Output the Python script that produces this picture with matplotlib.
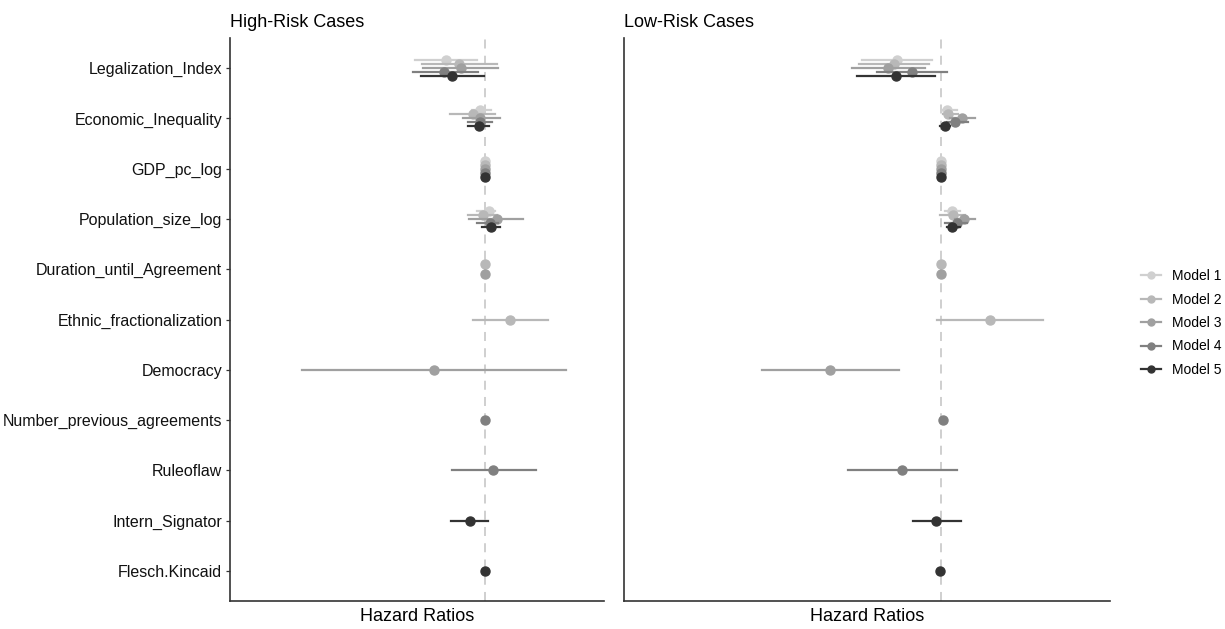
import matplotlib.pyplot as plt
from matplotlib.lines import Line2D

plt.rcParams['font.family'] = ['Liberation Sans', 'DejaVu Sans']

variables = ['Legalization_Index', 'Economic_Inequality', 'GDP_pc_log',
             'Population_size_log', 'Duration_until_Agreement',
             'Ethnic_fractionalization', 'Democracy',
             'Number_previous_agreements', 'Ruleoflaw', 'Intern_Signator',
             'Flesch.Kincaid']
models = ['Model 1', 'Model 2', 'Model 3', 'Model 4', 'Model 5']
colors = ['#d0d0d0', '#b8b8b8', '#a0a0a0', '#808080', '#333333']

# which variables are in each model
m1_vars = ['Legalization_Index', 'Economic_Inequality', 'GDP_pc_log', 'Population_size_log']
m2_vars = m1_vars + ['Duration_until_Agreement', 'Ethnic_fractionalization']
m3_vars = m1_vars + ['Duration_until_Agreement', 'Democracy']
m4_vars = m1_vars + ['Number_previous_agreements', 'Ruleoflaw']
m5_vars = m1_vars + ['Intern_Signator', 'Flesch.Kincaid']

# high-risk: estimate, lower, upper
hr_m1 = [0.922, 0.990, 1.000, 1.008]
hr_m1_lo = [0.860, 0.974, 0.999, 0.984]
hr_m1_hi = [0.984, 1.012, 1.001, 1.020]
hr_m2 = [0.948, 0.976, 1.000, 0.996, 1.000, 1.050]
hr_m2_lo = [0.874, 0.930, 0.999, 0.966, 1.000, 0.976]
hr_m2_hi = [1.024, 1.020, 1.001, 1.024, 1.000, 1.126]
hr_m3 = [0.952, 0.990, 1.000, 1.024, 1.000, 0.898]
hr_m3_lo = [0.876, 0.956, 0.999, 0.968, 1.000, 0.634]
hr_m3_hi = [1.026, 1.030, 1.001, 1.076, 1.000, 1.162]
hr_m4 = [0.918, 0.990, 1.000, 1.010, 1.000, 1.016]
hr_m4_lo = [0.856, 0.966, 0.999, 0.984, 1.000, 0.934]
hr_m4_hi = [0.986, 1.014, 1.001, 1.026, 1.000, 1.102]
hr_m5 = [0.934, 0.988, 1.000, 1.012, 0.970, 1.000]
hr_m5_lo = [0.872, 0.966, 0.999, 0.994, 0.932, 0.999]
hr_m5_hi = [0.998, 1.008, 1.001, 1.030, 1.006, 1.001]

# low-risk
lr_m1 = [0.912, 1.012, 1.000, 1.022]
lr_m1_lo = [0.842, 1.002, 0.999, 1.008]
lr_m1_hi = [0.982, 1.032, 1.001, 1.038]
lr_m2 = [0.906, 1.014, 1.000, 1.024, 1.000, 1.098]
lr_m2_lo = [0.836, 1.004, 0.999, 0.998, 1.000, 0.992]
lr_m2_hi = [0.976, 1.034, 1.001, 1.048, 1.000, 1.204]
lr_m3 = [0.894, 1.042, 1.000, 1.046, 1.000, 0.778]
lr_m3_lo = [0.822, 1.018, 0.999, 1.028, 1.000, 0.642]
lr_m3_hi = [0.968, 1.068, 1.001, 1.068, 1.000, 0.916]
lr_m4 = [0.942, 1.028, 1.000, 1.032, 1.004, 0.922]
lr_m4_lo = [0.872, 1.012, 0.999, 1.008, 1.004, 0.814]
lr_m4_hi = [1.012, 1.054, 1.001, 1.052, 1.004, 1.032]
lr_m5 = [0.910, 1.008, 1.000, 1.022, 0.990, 0.998]
lr_m5_lo = [0.832, 0.998, 0.999, 1.012, 0.944, 0.997]
lr_m5_hi = [0.988, 1.018, 1.001, 1.038, 1.040, 0.999]

model_vars = [m1_vars, m2_vars, m3_vars, m4_vars, m5_vars]
high = [(hr_m1, hr_m1_lo, hr_m1_hi), (hr_m2, hr_m2_lo, hr_m2_hi),
        (hr_m3, hr_m3_lo, hr_m3_hi), (hr_m4, hr_m4_lo, hr_m4_hi),
        (hr_m5, hr_m5_lo, hr_m5_hi)]
low = [(lr_m1, lr_m1_lo, lr_m1_hi), (lr_m2, lr_m2_lo, lr_m2_hi),
       (lr_m3, lr_m3_lo, lr_m3_hi), (lr_m4, lr_m4_lo, lr_m4_hi),
       (lr_m5, lr_m5_lo, lr_m5_hi)]


def dodge_pos(var, k):
    # position_dodge like ggplot: spread the models present for this variable
    present = [i for i in range(5) if var in model_vars[i]]
    n = len(present)
    j = present.index(k)
    return variables.index(var) + (j - (n - 1) / 2) * 0.4 / n


def draw(ax, data, title, xlim, ylabels):
    ax.axvline(1, color='#cccccc', linestyle=(0, (5, 4)), linewidth=1.3, zorder=1)
    for k in range(5):
        est, lo, hi = data[k]
        for v, e, l, h in zip(model_vars[k], est, lo, hi):
            y = dodge_pos(v, k)
            ax.plot([l, h], [y, y], color=colors[k], linewidth=1.6, zorder=2 + k)
            ax.plot(e, y, 'o', color=colors[k], markersize=6.5, zorder=2 + k)
    ax.set_xlim(xlim)
    ax.set_ylim(10.6, -0.6)
    ax.set_yticks(range(len(variables)))
    if ylabels:
        ax.set_yticklabels(variables, fontsize=11.5, color='#111111')
        ax.tick_params(axis='y', length=3, color='#333333', width=0.9, pad=2.5)
    else:
        ax.set_yticklabels([])
        ax.tick_params(axis='y', length=0)
    ax.set_xticks([])
    ax.set_xlabel('Hazard Ratios', fontsize=13, labelpad=5)
    ax.set_title(title, fontsize=13, loc='left', pad=8)
    for s in ['top', 'right']:
        ax.spines[s].set_visible(False)
    for s in ['left', 'bottom']:
        ax.spines[s].set_color('#333333')
        ax.spines[s].set_linewidth(1.2)


fig = plt.figure(figsize=(12.25, 6.29), dpi=100)
ax1 = fig.add_axes([230 / 1225, 1 - 601 / 629, 374 / 1225, 563 / 629])
ax2 = fig.add_axes([624 / 1225, 1 - 601 / 629, 486 / 1225, 563 / 629])

draw(ax1, high, 'High-Risk Cases', (0.49, 1.238), True)
draw(ax2, low, 'Low-Risk Cases', (0.366, 1.338), False)

handles = [Line2D([0], [0], color=c, marker='o', markersize=5, linewidth=1.6) for c in colors]
fig.legend(handles, models, loc='center left', bbox_to_anchor=(1128 / 1225, 1 - 323 / 629),
           frameon=False, fontsize=10, handlelength=1.5, labelspacing=0.68)

fig.savefig('out.png', dpi=100)
